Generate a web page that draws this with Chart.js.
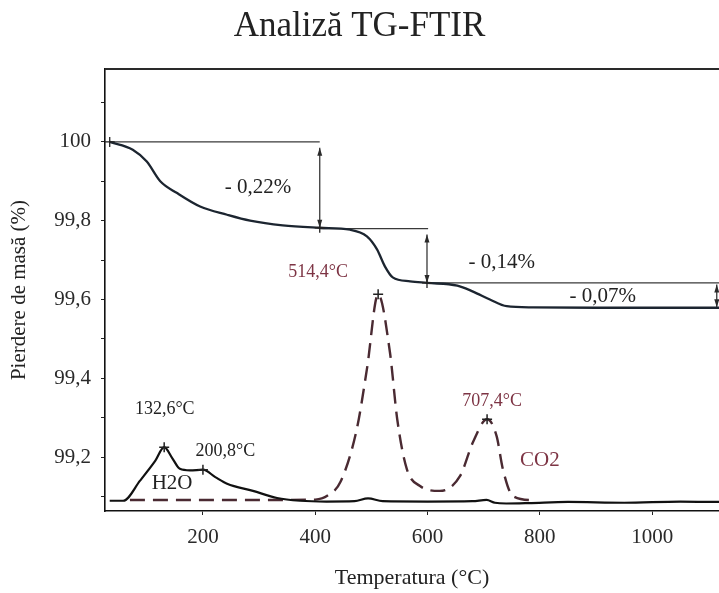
<!DOCTYPE html>
<html>
<head>
<meta charset="utf-8">
<script src="https://cdn.jsdelivr.net/npm/chart.js@4.4.1/dist/chart.umd.min.js"></script>
<style>
  html, body { margin: 0; padding: 0; background: #ffffff; }
  #wrap { width: 719px; height: 593px; position: relative; }
</style>
</head>
<body>
<div id="wrap"><canvas id="c"></canvas></div>
<script>
// ---------- DATA ----------
// TG curve: mass loss (%) vs temperature (°C)
const tgTemp = [34, 75, 100, 124, 154, 195, 243, 284, 342, 408, 462, 492, 510, 524, 538, 569, 599, 653, 681, 711, 741, 788, 900, 1119];
const tgMass = [100.0, 99.98, 99.95, 99.90, 99.87, 99.836, 99.815, 99.80, 99.788, 99.782, 99.777, 99.76, 99.727, 99.684, 99.656, 99.646, 99.642, 99.635, 99.62, 99.60, 99.583, 99.58, 99.579, 99.579];

// H2O evolution profile (solid), drawn on the same axis
const h2oTemp = [34, 58, 88, 115, 131, 145, 159, 177, 200, 222, 243, 289, 332, 373, 420, 470, 494, 520, 600, 680, 705, 720, 740, 780, 850, 950, 1050, 1119];
const h2oVal  = [99.089, 99.089, 99.14, 99.19, 99.225, 99.198, 99.17, 99.166, 99.168, 99.149, 99.132, 99.114, 99.096, 99.089, 99.087, 99.088, 99.095, 99.088, 99.087, 99.088, 99.091, 99.084, 99.082, 99.083, 99.086, 99.084, 99.087, 99.086];

// CO2 evolution profile (dashed)
const co2Temp = [70, 200, 300, 400, 425, 445, 474, 492, 512, 533, 546, 563, 586, 622, 658, 681, 706, 723, 734, 752, 790];
const co2Val  = [99.091, 99.091, 99.091, 99.092, 99.105, 99.137, 99.271, 99.423, 99.613, 99.466, 99.296, 99.17, 99.127, 99.114, 99.152, 99.238, 99.296, 99.253, 99.17, 99.101, 99.09];

// Peak markers
const peakTemp = [131, 200, 512, 706];
const peakVal  = [99.225, 99.168, 99.613, 99.296];
const peakText = ['132,6°C', '200,8°C', '514,4°C', '707,4°C'];
const peakLabelTemp = [132, 240, 405, 715];
const peakLabelVal  = [99.322, 99.215, 99.668, 99.342];

// Step-loss construction (horizontal reference levels and measured steps)
const stepStartT = [34, 408, 599];
const stepEndT   = [408, 601, 1119];
const stepLevel  = [100.0, 99.78, 99.642];
const arrowTemp   = [408, 599, 1115];
const arrowTop    = [99.985, 99.765, 99.638];
const arrowBottom = [99.782, 99.642, 99.58];
const tgMarkT = [34, 408, 599];
const tgMarkV = [100.0, 99.782, 99.642];
const lossText = ['- 0,22%', '- 0,14%', '- 0,07%'];
const lossT = [298, 732, 912];
const lossV = [99.884, 99.694, 99.608];

const gasText = ['H2O', 'CO2'];
const gasT = [145, 800];
const gasV = [99.132, 99.192];

const xTicks = [200, 400, 600, 800, 1000];
const yTicks = [99.1, 99.2, 99.3, 99.4, 99.5, 99.6, 99.7, 99.8, 99.9, 100.0, 100.1];

// ---------- build ----------
const pts = (xs, ys) => xs.map((x, i) => ({ x: x, y: ys[i] }));
const SERIF = "'Liberation Serif', 'DejaVu Serif', serif";
const MAROON = '#7d3444';

const refLineSets = [];
stepStartT.forEach((s, i) => {
  refLineSets.push({
    data: [{ x: s, y: stepLevel[i] }, { x: stepEndT[i], y: stepLevel[i] }],
    borderColor: '#3a3a3a', borderWidth: 1.3, pointRadius: 0, tension: 0, order: 5
  });
});
arrowTemp.forEach((t, i) => {
  refLineSets.push({
    data: [{ x: t, y: arrowTop[i] }, { x: t, y: arrowBottom[i] }],
    borderColor: '#3a3a3a', borderWidth: 1.3, pointRadius: 0, tension: 0, order: 5
  });
});

const framePlugin = {
  id: 'frame',
  afterDraw(chart) {
    const { ctx, chartArea } = chart;
    ctx.save();
    ctx.strokeStyle = '#2a2a2a';
    ctx.lineWidth = 2;
    ctx.beginPath();
    ctx.moveTo(chartArea.left, chartArea.top);
    ctx.lineTo(chart.width, chartArea.top);
    ctx.stroke();
    ctx.restore();
  }
};

const annoPlugin = {
  id: 'anno',
  afterDatasetsDraw(chart) {
    const { ctx, scales } = chart;
    const X = scales.x, Y = scales.y;
    ctx.save();
    // arrow heads on vertical step arrows
    ctx.fillStyle = '#2a2a2a';
    arrowTemp.forEach((t, i) => {
      const x = X.getPixelForValue(t);
      const yt = Y.getPixelForValue(arrowTop[i]);
      const yb = Y.getPixelForValue(arrowBottom[i]);
      ctx.beginPath();
      ctx.moveTo(x, yt); ctx.lineTo(x - 2.5, yt + 8); ctx.lineTo(x + 2.5, yt + 8); ctx.closePath(); ctx.fill();
      ctx.beginPath();
      ctx.moveTo(x, yb); ctx.lineTo(x - 2.5, yb - 8); ctx.lineTo(x + 2.5, yb - 8); ctx.closePath(); ctx.fill();
    });
    ctx.textAlign = 'center';
    ctx.textBaseline = 'middle';
    // step loss labels
    ctx.fillStyle = '#222';
    ctx.font = '21px ' + SERIF;
    lossText.forEach((s, i) => ctx.fillText(s, X.getPixelForValue(lossT[i]), Y.getPixelForValue(lossV[i])));
    // peak labels
    ctx.font = '18px ' + SERIF;
    peakText.forEach((s, i) => {
      ctx.fillStyle = i < 2 ? '#222' : MAROON;
      ctx.fillText(s, X.getPixelForValue(peakLabelTemp[i]), Y.getPixelForValue(peakLabelVal[i]));
    });
    // gas labels
    ctx.font = '21px ' + SERIF;
    gasText.forEach((s, i) => {
      ctx.fillStyle = i === 0 ? '#222' : MAROON;
      ctx.fillText(s, X.getPixelForValue(gasT[i]), Y.getPixelForValue(gasV[i]));
    });
    ctx.restore();
  }
};

new Chart(document.getElementById('c'), {
  type: 'line',
  data: {
    datasets: [
      { label: 'TG', data: pts(tgTemp, tgMass), borderColor: '#1c2530', borderWidth: 2.3, pointRadius: 0, cubicInterpolationMode: 'monotone', order: 1 },
      { label: 'H2O', data: pts(h2oTemp, h2oVal), borderColor: '#111', borderWidth: 2.2, pointRadius: 0, cubicInterpolationMode: 'monotone', order: 2 },
      { label: 'CO2', data: pts(co2Temp, co2Val), borderColor: '#4a2a32', borderWidth: 2.4, borderDash: [15, 8], pointRadius: 0, cubicInterpolationMode: 'monotone', order: 3 },
      ...refLineSets,
      { label: 'peaks', data: pts(peakTemp, peakVal), showLine: false, pointStyle: 'cross', pointRadius: 5, borderColor: '#222', borderWidth: 1.5, order: 0 },
      { label: 'tgmarks', data: pts(tgMarkT, tgMarkV), showLine: false, pointStyle: 'cross', pointRadius: 5, borderColor: '#222', borderWidth: 1.3, order: 0 }
    ]
  },
  options: {
    responsive: true,
    maintainAspectRatio: false,
    devicePixelRatio: 1,
    animation: false,
    events: [],
    layout: { autoPadding: false, padding: { left: 0, right: 0, top: 0, bottom: 0 } },
    plugins: {
      legend: { display: false },
      tooltip: { enabled: false },
      title: {
        display: true,
        text: 'Analiză TG-FTIR',
        color: '#222',
        font: { family: SERIF, size: 35, weight: 'normal' },
        padding: { top: 6, bottom: 21 }
      }
    },
    scales: {
      x: {
        type: 'linear',
        position: 'bottom',
        min: 25.6,
        max: 1119,
        afterBuildTicks: s => { s.ticks = xTicks.map(v => ({ value: v })); },
        afterFit: s => { s.height = 82; s.paddingLeft = 0; s.paddingRight = 0; },
        ticks: { color: '#2a2a2a', font: { family: SERIF, size: 21 }, padding: 10, maxRotation: 0, callback: v => String(v) },
        grid: { drawOnChartArea: false, tickLength: 4, color: '#222', lineWidth: 1 },
        border: { display: true, color: '#111', width: 1.6 },
        title: { display: true, text: 'Temperatura (°C)', color: '#222', font: { family: SERIF, size: 22 }, padding: { top: 0, bottom: 2 } }
      },
      y: {
        type: 'linear',
        min: 99.063,
        max: 100.185,
        afterBuildTicks: s => { s.ticks = yTicks.map(v => ({ value: v })); },
        afterFit: s => { s.width = 105; s.paddingTop = 0; s.paddingBottom = 0; },
        ticks: {
          color: '#2a2a2a', font: { family: SERIF, size: 21 }, padding: 10,
          callback: v => {
            const tenth = Math.round(v * 10);
            if (tenth % 2 !== 0) return '';
            return tenth === 1000 ? '100' : (tenth / 10).toFixed(1).replace('.', ',');
          }
        },
        grid: { drawOnChartArea: false, tickLength: 4, color: '#222', lineWidth: 1 },
        border: { display: true, color: '#111', width: 1.6 },
        title: { display: true, text: 'Pierdere de masă (%)', color: '#222', font: { family: SERIF, size: 21 }, padding: { top: 7, bottom: 0 } }
      }
    }
  },
  plugins: [framePlugin, annoPlugin]
});
</script>
</body>
</html>
